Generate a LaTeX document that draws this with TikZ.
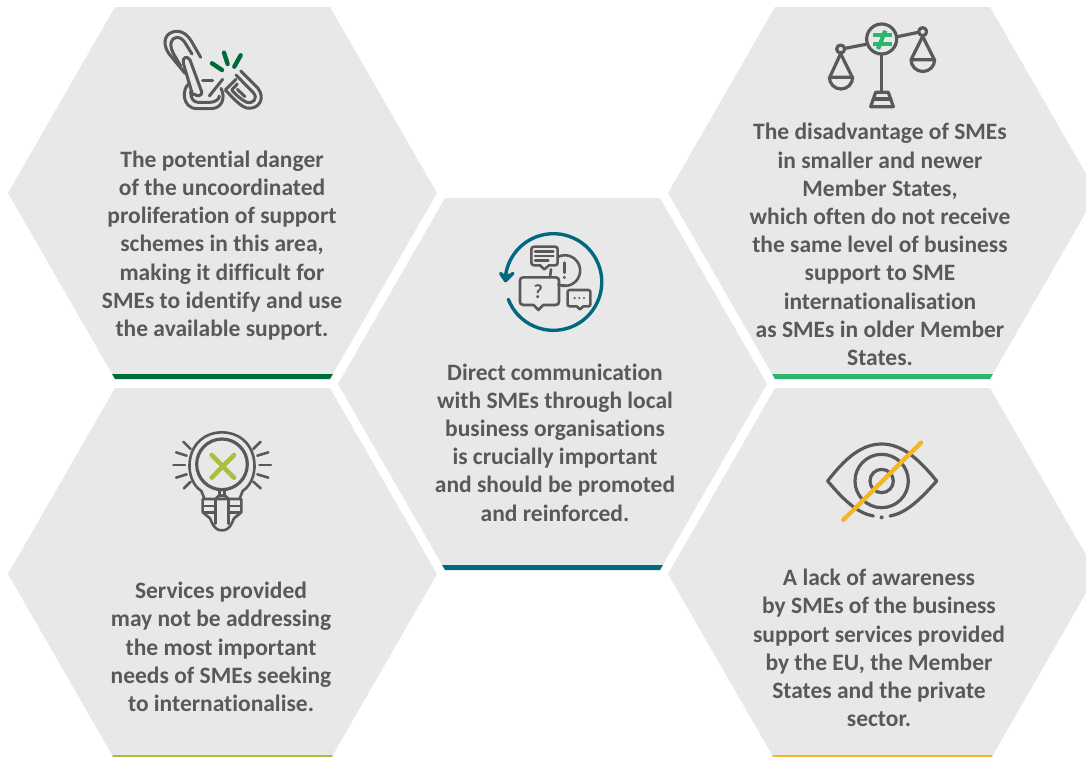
\documentclass[tikz,border=0pt]{standalone}
\usepackage{fontspec}
\setmainfont{Carlito}[Ligatures=NoCommon]
\definecolor{hexfill}{HTML}{E8E8E8}
\definecolor{ink}{HTML}{595959}
\definecolor{cdark}{HTML}{006B3A}
\definecolor{cbright}{HTML}{2DB46E}
\definecolor{cteal}{HTML}{00697F}
\definecolor{colive}{HTML}{A9C03A}
\definecolor{cyellow}{HTML}{F4B526}
\tikzset{
  hexcell/.style={fill=hexfill,draw=none},
  bartrap/.style={draw=none},
  body/.style={font=\fontsize{23.5}{28.2}\selectfont\bfseries,text=ink,align=center,inner sep=0pt},
  icon/.style={draw=ink,line width=3.2pt,line cap=round,line join=round},
  iconthin/.style={draw=ink,line width=2.6pt,line cap=round,line join=round},
  chainline/.style={draw=ink,line width=3pt,line cap=round,line join=round},
  accent/.style={line width=4.4pt,line cap=round}
}
\newcommand{\hexagon}[3]{% cx, top, barcolor
  \fill[hexcell] (#1-107.5,#2) -- (#1+107.5,#2) -- (#1+214.5,#2+186) -- (#1+107.5,#2+372) -- (#1-107.5,#2+372) -- (#1-214.5,#2+186) -- cycle;
  \fill[#3,bartrap] (#1-110.4,#2+367) -- (#1+110.4,#2+367) -- (#1+107.5,#2+372) -- (#1-107.5,#2+372) -- cycle;
}
\begin{document}
\begin{tikzpicture}[x=1pt,y=-1pt]
\useasboundingbox (0,0) rectangle (1086,756);
\begin{scope}
\clip (0,0) rectangle (1086,756);
\hexagon{222.5}{7}{cdark}
\hexagon{222.5}{388}{colive}
\hexagon{552.5}{198}{cteal}
\hexagon{882.5}{7}{cbright}
\hexagon{882.5}{388}{cyellow}
\end{scope}

\node[body] (t1) at (222,245.5) {The potential danger\\of the uncoordinated\\proliferation of support\\schemes in this area,\\making it difficult for\\SMEs to identify and use\\the available support.};
\node[body] (t2) at (221,647) {Services provided\\may not be addressing\\the most important\\needs of SMEs seeking\\to internationalise.};
\node[body] (t3) at (555,442.5) {Direct communication\\with SMEs through local\\business organisations\\is crucially important\\and should be promoted\\and reinforced.};
\node[body] (t4) at (880,244.5) {The disadvantage of SMEs\\in smaller and newer\\Member States,\\which often do not receive\\the same level of business\\support to SME\\internationalisation\\as SMEs in older Member\\States.};
\node[body] (t5) at (879,648) {A lack of awareness\\by SMEs of the business\\support services provided\\by the EU, the Member\\States and the private\\sector.};

% chain icon
\begin{scope}[shift={(150,20)},x=0.3333pt,y=-0.3333pt]
\draw[chainline] (105,160) -- (56,100) .. controls (33,65) and (48,36) .. (78,34) .. controls (102,33) and (114,48) .. (124,63) -- (152,112);
\draw[chainline] (92,138) -- (70,100) .. controls (57,75) and (62,54) .. (80,52) .. controls (94,52) and (102,62) .. (110,76) -- (126,102);
\draw[chainline] (128,225) -- (100,130) .. controls (95,112) and (112,105) .. (120,120) -- (155,215) .. controls (158,228) and (140,232) .. (133,222);
\draw[chainline] (118,190) .. controls (95,205) and (95,264) .. (140,266) -- (185,266) .. controls (215,264) and (228,235) .. (213,205);
\draw[chainline] (122,215) .. controls (122,235) and (130,247) .. (145,247) -- (180,247) .. controls (195,247) and (208,238) .. (208,228);
\draw[chainline] (158,183) -- (188,183);
\draw[chainline] (178,228) -- (218,178);
\draw[chainline] (272,153) -- (324,205) .. controls (347,235) and (327,270) .. (290,264) .. controls (270,258) and (250,235) .. (226,210) -- (258,178);
\draw[chainline] (258,165) -- (310,218) .. controls (325,235) and (310,252) .. (290,247) .. controls (275,240) and (258,225) .. (245,210) -- (262,192);
\draw[chainline] (262,208) -- (285,230);
\draw[cdark,accent] (186,130) -- (216,150);
\draw[cdark,accent] (222,98) -- (233,132);
\draw[cdark,accent] (272,106) -- (253,140);
\end{scope}

% scales icon
\begin{scope}[shift={(810,15)},x=0.3333pt,y=-0.3333pt]
\draw[icon] (215,72) circle (45);
\draw[icon] (168,88) -- (105,100);
\draw[icon] (262,65) -- (325,52);
\draw[icon] (92,102) circle (12);
\draw[icon] (338,50) circle (12);
\draw[icon] (215,118) -- (215,232);
\draw[icon] (197,232) -- (235,232) -- (250,275) -- (182,275) -- cycle;
\draw[icon] (190,252) -- (242,252);
\draw[icon] (92,116) -- (60,185);
\draw[icon] (92,116) -- (126,185);
\draw[icon] (58,187) -- (128,187) arc[start angle=0,end angle=180,radius=35];
\draw[icon] (338,64) -- (304,132);
\draw[icon] (338,64) -- (372,132);
\draw[icon] (303,134) -- (374,134) arc[start angle=0,end angle=180,radius=35.5];
\draw[cbright,line width=4.2pt] (190,60) -- (245,60);
\draw[cbright,line width=4.2pt] (190,88) -- (245,88);
\draw[cbright,line width=4.2pt] (226,47) -- (204,102);
\end{scope}

% communication icon
\begin{scope}[shift={(485,220)},x=0.3333pt,y=-0.3333pt]
\draw[cteal,line width=3.4pt,line cap=round] (70,238) arc[start angle=159,end angle=-174,radius=145];
\draw[cteal,line width=3.4pt,line cap=round,line join=round] (47,160) -- (62,182) -- (84,160);
\draw[cteal,line width=3pt,line cap=round,line join=round,fill=cteal] (50,165) -- (62,182) -- (78,165) -- cycle;
\draw[iconthin] (148,80) -- (210,80) .. controls (216,80) and (218,84) .. (218,88) -- (218,128) .. controls (218,133) and (215,136) .. (210,136) -- (192,136) -- (178,148) -- (165,136) -- (148,136) .. controls (142,136) and (139,133) .. (139,128) -- (139,88) .. controls (139,84) and (142,80) .. (148,80) -- cycle;
\draw[iconthin] (150,95) -- (205,95);
\draw[iconthin] (150,108) -- (205,108);
\draw[iconthin] (150,122) -- (190,122);
\draw[iconthin] (220,110) arc[start angle=-115,end angle=115,radius=46];
\draw[iconthin] (198,148) -- (195,172);
\draw[iconthin] (238,128) -- (238,158);
\fill[ink] (238,172) circle (5);
\draw[iconthin] (115,172) -- (212,172) .. controls (219,172) and (222,176) .. (222,182) -- (222,245) .. controls (222,251) and (219,255) .. (212,255) -- (175,255) -- (160,270) -- (146,255) -- (115,255) .. controls (108,255) and (105,251) .. (105,245) -- (105,182) .. controls (105,176) and (108,172) .. (115,172) -- cycle;
\node[font=\fontsize{20}{20}\selectfont\bfseries,text=ink,inner sep=0pt] (qmark) at (160,214) {?};
\draw[iconthin] (255,210) -- (310,210) .. controls (314,210) and (316,212) .. (316,216) -- (316,253) .. controls (316,257) and (314,259) .. (310,259) -- (295,259) -- (285,268) -- (275,259) -- (255,259) .. controls (250,259) and (248,257) .. (248,253) -- (248,216) .. controls (248,212) and (250,210) .. (255,210) -- cycle;
\fill[ink] (269,234) circle (3.5);
\fill[ink] (283,234) circle (3.5);
\fill[ink] (297,234) circle (3.5);
\draw[iconthin] (222,195) -- (240,195);
\end{scope}

% bulb icon
\begin{scope}[shift={(160,425)},x=0.3333pt,y=-0.3333pt]
\draw[icon] (186,118) circle (76);
\draw[iconthin] (132,218) -- (124,198) .. controls (65,160) and (75,24) .. (186,22) .. controls (297,24) and (307,160) .. (248,198) -- (240,218);
\draw[colive,line width=4.6pt,line cap=round] (155,90) -- (222,158);
\draw[colive,line width=4.6pt,line cap=round] (222,90) -- (155,158);
\draw[iconthin] (40,120) -- (75,120);
\draw[iconthin] (48,82) -- (80,92);
\draw[iconthin] (48,158) -- (80,148);
\draw[iconthin] (70,50) -- (92,72);
\draw[iconthin] (72,190) -- (92,170);
\draw[iconthin] (298,120) -- (333,120);
\draw[iconthin] (292,92) -- (325,82);
\draw[iconthin] (292,148) -- (325,158);
\draw[iconthin] (280,72) -- (302,50);
\draw[iconthin] (280,170) -- (302,190);
\draw[iconthin] (178,196) -- (178,208);
\draw[iconthin] (194,196) -- (194,208);
\draw[iconthin] (128,222) -- (244,222) -- (244,262) -- (222,280) .. controls (215,295) and (210,316) .. (186,316) .. controls (162,316) and (157,295) .. (150,280) -- (128,262) -- cycle;
\draw[iconthin] (166,222) -- (166,296);
\draw[iconthin] (206,222) -- (206,296);
\draw[iconthin] (166,222) .. controls (172,208) and (200,208) .. (206,222);
\draw[iconthin] (130,243) -- (166,243);
\draw[iconthin] (130,262) -- (166,262);
\draw[iconthin] (206,243) -- (242,243);
\draw[iconthin] (206,262) -- (242,262);
\end{scope}

% eye icon
\begin{scope}[shift={(815,430)},x=0.3333pt,y=-0.3333pt]
\draw[icon] (38,153) .. controls (90,85) and (140,42) .. (200,42) .. controls (260,42) and (310,85) .. (365,153);
\draw[icon] (38,153) .. controls (90,215) and (130,250) .. (175,258);
\draw[icon] (365,153) .. controls (310,215) and (270,250) .. (225,258);
\fill[ink] (200,262) circle (6);
\draw[icon] (200,153) circle (80);
\draw[icon] (200,153) circle (35);
\draw[cyellow,line width=4.4pt,line cap=round] (85,270) -- (318,38);
\end{scope}
\end{tikzpicture}
\end{document}
